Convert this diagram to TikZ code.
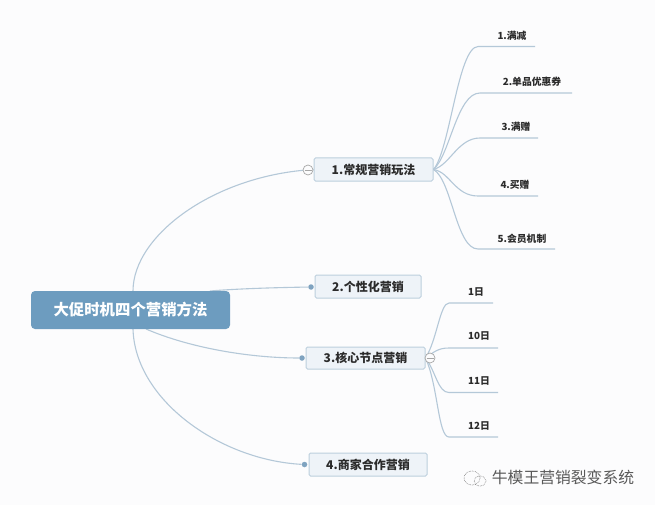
\documentclass[tikz,border=0pt]{standalone}
\usepackage{fontspec}
\usetikzlibrary{calc}
\setmainfont{Noto Sans CJK SC}
\newcommand{\fs}[1]{\fontsize{#1}{#1}\selectfont}
\definecolor{bgc}{HTML}{FCFCFD}
\definecolor{rootc}{HTML}{6D9CBF}
\definecolor{boxb}{HTML}{BCCFDD}
\definecolor{boxf}{HTML}{EEF3F8}
\definecolor{linec}{HTML}{B4C8D8}
\definecolor{dotc}{HTML}{7FA3C0}
\definecolor{txtc}{HTML}{2B2B2B}
\tikzset{
  x=1pt,y=-1pt,
  rootbox/.style={draw=none,fill=rootc,rounded corners=4pt,minimum width=199pt,minimum height=38pt,inner sep=0pt,text=white,font=\fs{15.4}\bfseries},
  topic/.style={draw=boxb,line width=1pt,fill=boxf,rounded corners=1.5pt,minimum height=23pt,inner sep=0pt,text=txtc,font=\fs{12}\bfseries},
  leaf/.style={inner sep=0pt,text=txtc,font=\fs{9.8}\bfseries},
  conn/.style={draw=linec,line width=1.1pt},
  dot/.style={circle,fill=dotc,draw=none,minimum size=5.5pt,inner sep=0pt},
  collapse/.style={circle,draw=gray!70,line width=.7pt,fill=bgc,minimum size=10pt,inner sep=0pt},
}
\begin{document}
\begin{tikzpicture}
\useasboundingbox (0,0) rectangle (655,505);
\fill[bgc] (0,0) rectangle (655,505);

% coordinates
\coordinate (ra) at (133,291);
\coordinate (rb) at (210,291);
\coordinate (rc) at (146,329);
\coordinate (rd) at (133,329);
\coordinate (la1) at (478,46.5); \coordinate (le1) at (535,46.5);
\coordinate (la2) at (480,93);   \coordinate (le2) at (572,93);
\coordinate (la3) at (480,138);  \coordinate (le3) at (538,138);
\coordinate (la4) at (478,196);  \coordinate (le4) at (538,196);
\coordinate (la5) at (478,249);  \coordinate (le5) at (555,249);
\coordinate (ma1) at (449,303);  \coordinate (me1) at (493,303);
\coordinate (ma2) at (449,348);  \coordinate (me2) at (498,348);
\coordinate (ma3) at (449,392.5);\coordinate (me3) at (498,392.5);
\coordinate (ma4) at (449,437);  \coordinate (me4) at (498,437);

% nodes
\node[topic,minimum width=119pt] (n1) at (373.5,169.5) {1.常规营销玩法};
\node[topic,minimum width=106pt] (n2) at (368,286.5) {2.个性化营销};
\node[topic,minimum width=119pt,minimum height=22pt] (n3) at (365.5,358) {3.核心节点营销};
\node[topic,minimum width=118pt] (n4) at (368,464.5) {4.商家合作营销};
\node[dot] (d2) at (311,287) {};
\node[dot] (d3) at (302,358) {};
\node[dot] (d4) at (304.5,464.5) {};

% root connectors
\draw[conn] (ra) .. controls (133,235) and (215,175) .. (n1.west);
\draw[conn] (rb) .. controls (240,288.5) and (280,287.5) .. (d2);
\draw[conn] (rc) .. controls (190,348) and (250,358) .. (d3);
\draw[conn] (rd) .. controls (135,400) and (220,460) .. (d4);

% leaf connectors of topic 1
\foreach \i/\ca/\cb in {1/{450,150}/{458,47},2/{450,155}/{457,93},3/{450,165}/{458,138},4/{450,172}/{455,196},5/{452,180}/{456,249}}{
  \draw[conn] (n1.east) .. controls (\ca) and (\cb) .. (la\i) -- (le\i);
}
\node[collapse] (c1) at (308,170) {};
\draw[gray!70,line width=.6pt] ($(c1.center)+(-3.5,0)$) -- ($(c1.center)+(3.5,0)$);

% leaf connectors of topic 3
\foreach \i/\ca/\cb in {1/{437,340}/{440,303},2/{434,352}/{438,348},3/{436,372}/{438,392.5},4/{438,385}/{438,437}}{
  \draw[conn] (n3.east) .. controls (\ca) and (\cb) .. (ma\i) -- (me\i);
}
\node[collapse] (c3) at (430,358) {};
\draw[gray!70,line width=.6pt] ($(c3.center)+(-3.5,0)$) -- ($(c3.center)+(3.5,0)$);

% root on top
\node[rootbox] (root) at (130.5,310) {大促时机四个营销方法};

% leaf labels
\node[leaf] (t1) at (512,36) {1.满减};
\node[leaf] (t2) at (532,82) {2.单品优惠券};
\node[leaf] (t3) at (516,127) {3.满赠};
\node[leaf] (t4) at (515,185) {4.买赠};
\node[leaf] (t5) at (522,239) {5.会员机制};
\node[leaf] (u1) at (476,292) {1日};
\node[leaf] (u2) at (479,336) {10日};
\node[leaf] (u3) at (479,381) {11日};
\node[leaf] (u4) at (479,426) {12日};

% watermark
\node[inner sep=0pt,text=black!65,font=\fs{15.8}] (wm) at (563,477) {牛模王营销裂变系统};
\draw[black!55,line width=.6pt,densely dotted] (472,478) ellipse [x radius=8,y radius=7];
\draw[black!55,line width=.6pt,densely dotted] (480,481) ellipse [x radius=6,y radius=5];
\end{tikzpicture}
\end{document}
